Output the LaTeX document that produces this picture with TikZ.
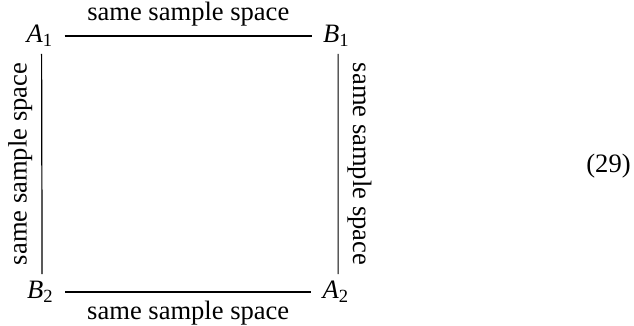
\documentclass[tikz,border=0pt]{standalone}
\usepackage{fontspec}
\setmainfont{Liberation Serif}
\newcommand{\lbl}[2]{\textit{#1}\textsubscript{#2}}
\begin{document}
\begin{tikzpicture}[x=0.3766pt,y=-0.3766pt,
  obj/.style={inner xsep=4pt,inner ysep=2.5pt},
  conn/.style={line width=0.45pt},
  lab/.style={font=\normalsize}]
\useasboundingbox (0,0) rectangle (634,326);
\node[obj] (A1) at (40,36) {\lbl{A}{1}};
\node[obj] (B1) at (336.5,36) {\lbl{B}{1}};
\node[obj] (B2) at (40.5,292) {\lbl{B}{2}};
\node[obj] (A2) at (336,292) {\lbl{A}{2}};
\draw[conn] (A1) -- node[midway,above,lab] {same sample space} (B1);
\draw[conn] (B2) -- node[midway,below,lab] {same sample space} (A2);
\draw[conn] ([xshift=0.6pt]B2.north) -- node[midway,rotate=90,anchor=south,lab] {same sample space} ([xshift=0.6pt]A1.south);
\draw[conn] ([xshift=0.6pt]B1.south) -- node[midway,rotate=-90,anchor=south,lab] {same sample space} ([xshift=0.8pt]A2.north);
\node (eq) at (608.5,166) {(29)};
\end{tikzpicture}
\end{document}
